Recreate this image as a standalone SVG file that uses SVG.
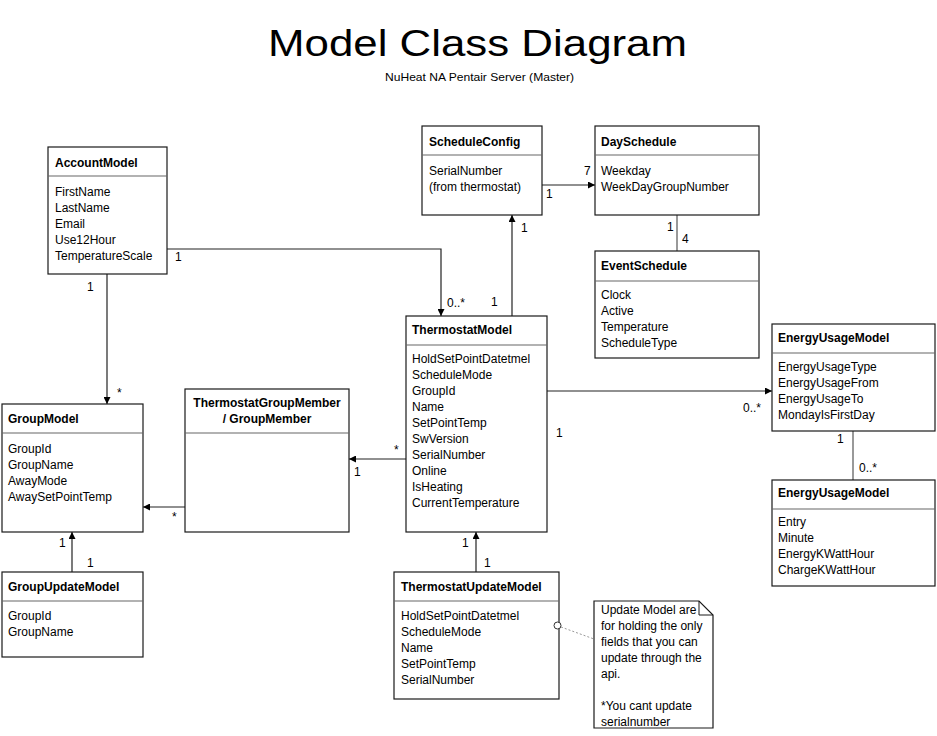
<svg xmlns="http://www.w3.org/2000/svg" width="937" height="736" viewBox="0 0 937 736">
<defs>
<marker id="arr" viewBox="0 0 10 10" refX="10" refY="5" markerWidth="7" markerHeight="7" markerUnits="userSpaceOnUse" orient="auto">
<path d="M0,0 L10,5 L0,10 Z" fill="#000"/>
</marker>
<style>
text{font-family:"Liberation Sans",Arial,sans-serif;font-size:12px;fill:#000}
.t{font-weight:bold}
.box{fill:#fff;stroke:#1a1a1a;stroke-width:1.2}
.div{stroke:#666;stroke-width:1.2}
.c{fill:none;stroke:#555;stroke-width:1.2}
.ca{fill:none;stroke:#222;stroke-width:1.2;marker-end:url(#arr)}
</style>
</defs>
<rect width="937" height="736" fill="#fff"/>
<text x="477.5" y="56" text-anchor="middle" style="font-size:37px" textLength="419" lengthAdjust="spacingAndGlyphs">Model Class Diagram</text>
<text x="479.5" y="81" text-anchor="middle" style="font-size:11px" textLength="189" lengthAdjust="spacingAndGlyphs">NuHeat NA Pentair Server (Master)</text>

<g id="connectors">
<path class="ca" d="M167,249 H441 V316"/>
<path class="ca" d="M107,274 V404"/>
<path class="ca" d="M542,185 H595"/>
<path class="c" d="M677,215 V251"/>
<path class="ca" d="M512,316 V215"/>
<path class="ca" d="M547,391 H772"/>
<path class="c" d="M853,431 V480"/>
<path class="ca" d="M406,459 H349"/>
<path class="ca" d="M185,507 H143"/>
<path class="ca" d="M72,572 V532"/>
<path class="ca" d="M476,572 V532"/>
<text x="175" y="261">1</text>
<text x="87" y="291">1</text>
<text x="117" y="397">*</text>
<text x="447" y="307">0..*</text>
<text x="491" y="306">1</text>
<text x="521" y="232">1</text>
<text x="584" y="175">7</text>
<text x="546" y="198">1</text>
<text x="667" y="231">1</text>
<text x="682" y="243">4</text>
<text x="556" y="437">1</text>
<text x="394" y="454">*</text>
<text x="354" y="476">1</text>
<text x="122" y="493">1</text>
<text x="172" y="521">*</text>
<text x="59" y="547">1</text>
<text x="87" y="567">1</text>
<text x="462" y="547">1</text>
<text x="484" y="567">1</text>
<text x="743" y="412">0..*</text>
<text x="837" y="443">1</text>
<text x="859" y="472">0..*</text>
</g>

<g id="AccountModel">
<rect class="box" x="48" y="147" width="119" height="127"/>
<line class="div" x1="48" y1="176" x2="167" y2="176"/>
<text class="t" x="55" y="167">AccountModel</text>
<text x="55" y="196">FirstName</text>
<text x="55" y="212">LastName</text>
<text x="55" y="228">Email</text>
<text x="55" y="244">Use12Hour</text>
<text x="55" y="260">TemperatureScale</text>
</g>

<g id="ScheduleConfig">
<rect class="box" x="422" y="126" width="120" height="89"/>
<line class="div" x1="422" y1="155" x2="542" y2="155"/>
<text class="t" x="429" y="146">ScheduleConfig</text>
<text x="429" y="175">SerialNumber</text>
<text x="429" y="191">(from thermostat)</text>
</g>

<g id="DaySchedule">
<rect class="box" x="595" y="126" width="164" height="89"/>
<line class="div" x1="595" y1="155" x2="759" y2="155"/>
<text class="t" x="601" y="146">DaySchedule</text>
<text x="601" y="175">Weekday</text>
<text x="601" y="191">WeekDayGroupNumber</text>
</g>

<g id="EventSchedule">
<rect class="box" x="595" y="251" width="164" height="107"/>
<line class="div" x1="595" y1="281" x2="759" y2="281"/>
<text class="t" x="601" y="270">EventSchedule</text>
<text x="601" y="299">Clock</text>
<text x="601" y="315">Active</text>
<text x="601" y="331">Temperature</text>
<text x="601" y="347">ScheduleType</text>
</g>

<g id="ThermostatModel">
<rect class="box" x="406" y="316" width="141" height="216"/>
<line class="div" x1="406" y1="345" x2="547" y2="345"/>
<text class="t" x="412" y="334">ThermostatModel</text>
<text x="412" y="363">HoldSetPointDatetmel</text>
<text x="412" y="379">ScheduleMode</text>
<text x="412" y="395">GroupId</text>
<text x="412" y="411">Name</text>
<text x="412" y="427">SetPointTemp</text>
<text x="412" y="443">SwVersion</text>
<text x="412" y="459">SerialNumber</text>
<text x="412" y="475">Online</text>
<text x="412" y="491">IsHeating</text>
<text x="412" y="507">CurrentTemperature</text>
</g>

<g id="EnergyUsageModel">
<rect class="box" x="772" y="324" width="163" height="107"/>
<line class="div" x1="772" y1="353" x2="935" y2="353"/>
<text class="t" x="778" y="342">EnergyUsageModel</text>
<text x="778" y="371">EnergyUsageType</text>
<text x="778" y="387">EnergyUsageFrom</text>
<text x="778" y="403">EnergyUsageTo</text>
<text x="778" y="419">MondayIsFirstDay</text>
</g>

<g id="EnergyUsageModel2">
<rect class="box" x="772" y="480" width="163" height="106"/>
<line class="div" x1="772" y1="509" x2="935" y2="509"/>
<text class="t" x="778" y="497">EnergyUsageModel</text>
<text x="778" y="526">Entry</text>
<text x="778" y="542">Minute</text>
<text x="778" y="558">EnergyKWattHour</text>
<text x="778" y="574">ChargeKWattHour</text>
</g>

<g id="GroupModel">
<rect class="box" x="2" y="404" width="141" height="128"/>
<line class="div" x1="2" y1="433" x2="143" y2="433"/>
<text class="t" x="8" y="423">GroupModel</text>
<text x="8" y="453">GroupId</text>
<text x="8" y="469">GroupName</text>
<text x="8" y="485">AwayMode</text>
<text x="8" y="501">AwaySetPointTemp</text>
</g>

<g id="ThermostatGroupMember">
<rect class="box" x="185" y="389" width="164" height="143"/>
<line class="div" x1="185" y1="433" x2="349" y2="433"/>
<text class="t" x="267" y="407" text-anchor="middle">ThermostatGroupMember</text>
<text class="t" x="267" y="423" text-anchor="middle">/ GroupMember</text>
</g>

<g id="GroupUpdateModel">
<rect class="box" x="2" y="572" width="141" height="85"/>
<line class="div" x1="2" y1="601" x2="143" y2="601"/>
<text class="t" x="8" y="591">GroupUpdateModel</text>
<text x="8" y="620">GroupId</text>
<text x="8" y="636">GroupName</text>
</g>

<g id="ThermostatUpdateModel">
<rect class="box" x="394" y="572" width="165" height="127"/>
<line class="div" x1="394" y1="601" x2="559" y2="601"/>
<text class="t" x="401" y="591">ThermostatUpdateModel</text>
<text x="401" y="620">HoldSetPointDatetmel</text>
<text x="401" y="636">ScheduleMode</text>
<text x="401" y="652">Name</text>
<text x="401" y="668">SetPointTemp</text>
<text x="401" y="684">SerialNumber</text>
</g>

<g id="Note">
<path d="M594,601 H699 L713,615 V728 H594 Z" fill="#fff" stroke="#1a1a1a" stroke-width="1.2"/>
<path d="M699,601 V615 H713" fill="none" stroke="#1a1a1a" stroke-width="1"/>
<text x="601" y="614">Update Model are</text>
<text x="601" y="630">for holding the only</text>
<text x="601" y="646">fields that you can</text>
<text x="601" y="662">update through the</text>
<text x="601" y="678">api.</text>
<text x="601" y="710">*You cant update</text>
<text x="601" y="726">serialnumber</text>
</g>

<g id="note-link">
<path d="M561,627 L594,639" fill="none" stroke="#999" stroke-width="1" stroke-dasharray="2,2"/>
<circle cx="557.5" cy="625.5" r="3.5" fill="#fff" stroke="#333" stroke-width="1"/>
</g>
</svg>
